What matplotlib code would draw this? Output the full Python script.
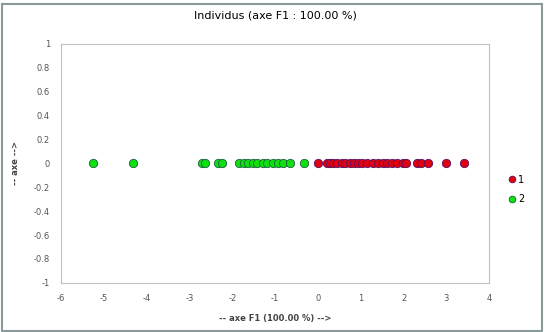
import matplotlib
matplotlib.use('Agg')
import matplotlib.pyplot as plt
from matplotlib.patches import Rectangle

# Coordonnees des individus sur l'axe F1
classe1 = [0.0, 0.2, 0.28, 0.35, 0.44, 0.56, 0.63, 0.75, 0.84, 0.93, 1.03, 1.14,
           1.29, 1.40, 1.52, 1.61, 1.73, 1.85, 1.99, 2.06, 2.31, 2.41, 2.57, 2.99, 3.41]
classe2 = [-5.26, -4.33, -2.72, -2.64, -2.34, -2.25, -1.85, -1.72, -1.63, -1.52,
           -1.42, -1.28, -1.19, -1.05, -0.93, -0.82, -0.65, -0.33]

xticks = [-6, -5, -4, -3, -2, -1, 0, 1, 2, 3, 4]
yticks = [1, 0.8, 0.6, 0.4, 0.2, 0, -0.2, -0.4, -0.6, -0.8, -1]

plt.rcParams['axes.unicode_minus'] = False

fig = plt.figure(figsize=(5.46, 3.32), dpi=100)
ax = fig.add_axes([0.112, 0.148, 0.784, 0.72])

ax.plot(classe1, [0] * len(classe1), 'o', color='#e00010', mec='#5a1060',
        mew=0.6, ms=6, label='1', ls='none')
ax.plot(classe2, [0] * len(classe2), 'o', color='#10e010', mec='#1a6040',
        mew=0.6, ms=6, label='2', ls='none')

ax.set_xlim(-6, 4)
ax.set_ylim(-1, 1)
ax.set_xticks(xticks)
ax.set_yticks(yticks)
ax.set_yticklabels([('%g' % v) for v in yticks])
ax.tick_params(length=0, labelsize=6, colors='#555555', pad=8)
for s in ax.spines.values():
    s.set_color('#c0c0c0')

ax.set_title('Individus (axe F1 : 100.00 %)', fontsize=8, pad=18)
ax.set_xlabel('-- axe F1 (100.00 %) -->', fontsize=6, fontweight='bold',
              color='#444444', labelpad=8)
ax.set_ylabel('-- axe -->', fontsize=6, fontweight='bold', color='#444444',
              labelpad=10)

ax.legend(loc='center left', bbox_to_anchor=(1.02, 0.39), frameon=False,
          fontsize=7, handletextpad=0.0, handlelength=1.2, labelspacing=1.0,
          markerscale=0.8)

fig.patches.append(Rectangle((0.003, 0.003), 0.99, 0.985, transform=fig.transFigure,
                             fill=False, edgecolor='#8a9a9a', lw=1.5))

plt.savefig('out.png', dpi=100)
